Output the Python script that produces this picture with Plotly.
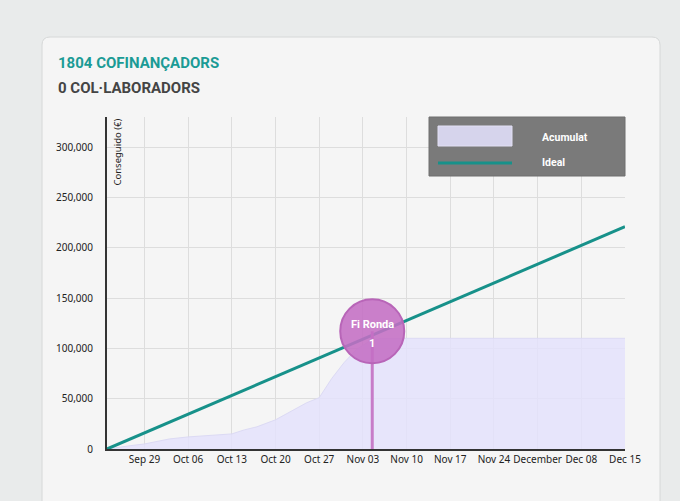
import plotly.graph_objects as go

# data
acum_dates = [
    '2025-09-23', '2025-09-25', '2025-09-27', '2025-09-29', '2025-10-01',
    '2025-10-03', '2025-10-06', '2025-10-09', '2025-10-13', '2025-10-15',
    '2025-10-17', '2025-10-20', '2025-10-22', '2025-10-25', '2025-10-27',
    '2025-10-29', '2025-10-31', '2025-11-02', '2025-11-04', '2025-11-06',
    '2025-12-15',
]
acum_values = [
    0, 2000, 3500, 5000, 7500,
    10000, 12000, 13500, 15000, 19000,
    22000, 29000, 36000, 46000, 51000,
    70000, 86000, 99000, 107000, 110000,
    110000,
]
ideal_dates = ['2025-09-23', '2025-12-15']
ideal_values = [0, 221000]
milestone_date = '2025-11-04 12:00'
milestone_value = 117000
milestone_label = ['Fi Ronda', '1']
tick_dates = [
    '2025-09-29', '2025-10-06', '2025-10-13', '2025-10-20', '2025-10-27',
    '2025-11-03', '2025-11-10', '2025-11-17', '2025-11-24', '2025-12-01',
    '2025-12-08', '2025-12-15',
]
tick_labels = [
    'Sep 29', 'Oct 06', 'Oct 13', 'Oct 20', 'Oct 27', 'Nov 03',
    'Nov 10', 'Nov 17', 'Nov 24', 'December', 'Dec 08', 'Dec 15',
]
y_ticks = [0, 50000, 100000, 150000, 200000, 250000, 300000]

TEAL = '#17918a'
PURPLE = 'rgba(196,110,196,0.88)'
W, H = 680, 501
L, R, T, B = 107, 55, 117, 52
PW, PH = W - L - R, H - T - B


def px(x):
    return (x - L) / PW


def py(y):
    return (H - B - y) / PH


def label(x, y, text, size, color, family='Roboto', bold=True):
    return dict(
        x=px(x), y=py(y), xref='paper', yref='paper',
        xanchor='left', yanchor='middle', text=text, showarrow=False,
        font=dict(family=family, size=size, color=color,
                  weight='bold' if bold else 'normal'),
    )


fig = go.Figure()

fig.add_trace(go.Scatter(
    x=acum_dates, y=acum_values, mode='lines', name='Acumulat',
    fill='tozeroy', fillcolor='rgba(228,226,252,0.85)',
    line=dict(color='#dcdaf4', width=1),
))
fig.add_trace(go.Scatter(
    x=ideal_dates, y=ideal_values, mode='lines', name='Ideal',
    line=dict(color=TEAL, width=3),
))
fig.add_trace(go.Scatter(
    x=[milestone_date, milestone_date], y=[0, milestone_value], mode='lines',
    line=dict(color='#c77cc8', width=3), showlegend=False,
))
fig.add_trace(go.Scatter(
    x=[milestone_date], y=[milestone_value], mode='markers',
    marker=dict(size=64, color=PURPLE, line=dict(color='#b865b8', width=2)),
    showlegend=False,
))

annotations = [
    dict(x=milestone_date, y=milestone_value, xref='x', yref='y',
         text=milestone_label[0], showarrow=False, yshift=7,
         font=dict(family='Roboto', size=11, color='white', weight='bold')),
    dict(x=milestone_date, y=milestone_value, xref='x', yref='y',
         text=milestone_label[1], showarrow=False, yshift=-12,
         font=dict(family='Roboto', size=11, color='white', weight='bold')),
    label(56, 63, '1804 COFINANÇADORS', 15, '#1b9b95'),
    label(56, 88, '0 COL·LABORADORS', 15, '#444444'),
    dict(x=px(117), y=1, xref='paper', yref='paper', xanchor='center',
         yanchor='top', textangle=-90, text='Conseguido (€)', showarrow=False,
         font=dict(family='Noto Sans', size=9.5, color='#222222')),
    label(540, 137, 'Acumulat', 10.5, 'white'),
    label(540, 162, 'Ideal', 10.5, 'white'),
]

# card behind the chart (top corners rounded)
card_path = (
    'M -65,-80 L -65,404 Q -65,412 -57,412 L 545,412 '
    'Q 553,412 553,404 L 553,-80 Z'
)
shapes = [
    dict(type='path', xref='paper', yref='paper', xsizemode='pixel',
         ysizemode='pixel', xanchor=0, yanchor=0, path=card_path,
         fillcolor='#f5f5f5', line=dict(color='#d6d8d8', width=1),
         layer='below'),
    # legend box
    dict(type='rect', xref='paper', yref='paper', x0=px(429), x1=1,
         y0=py(176), y1=1, fillcolor='#7a7a7a', line=dict(color='#6e6e6e', width=1)),
    dict(type='rect', xref='paper', yref='paper', x0=px(438), x1=px(512),
         y0=py(146), y1=py(126), fillcolor='#d6d4ec',
         line=dict(color='#e2e0f4', width=1)),
    dict(type='line', xref='paper', yref='paper', x0=px(438), x1=px(512),
         y0=py(163), y1=py(163), line=dict(color=TEAL, width=3)),
]

fig.update_layout(
    width=W,
    height=H,
    margin=dict(l=L, r=R, t=T, b=B, pad=0),
    paper_bgcolor='#e9ebeb',
    plot_bgcolor='#f5f5f5',
    showlegend=False,
    shapes=shapes,
    annotations=annotations,
    xaxis=dict(
        type='date',
        range=['2025-09-23', '2025-12-15'],
        tickvals=tick_dates,
        ticktext=tick_labels,
        showgrid=True,
        gridcolor='#dddddd',
        gridwidth=1,
        showline=True,
        linecolor='#333333',
        linewidth=2,
        ticks='',
        zeroline=False,
        tickfont=dict(family='Noto Sans', size=10, color='#222222'),
    ),
    yaxis=dict(
        range=[0, 330000],
        tickvals=y_ticks,
        tickformat=',d',
        showgrid=True,
        gridcolor='#dddddd',
        gridwidth=1,
        showline=True,
        linecolor='#333333',
        linewidth=2,
        ticks='',
        zeroline=False,
        ticklabelstandoff=10,
        tickfont=dict(family='Noto Sans', size=10, color='#222222'),
    ),
)

fig.write_html(
    'out.html',
    config={'displayModeBar': False},
    post_script="document.body.style.margin='0';",
)
